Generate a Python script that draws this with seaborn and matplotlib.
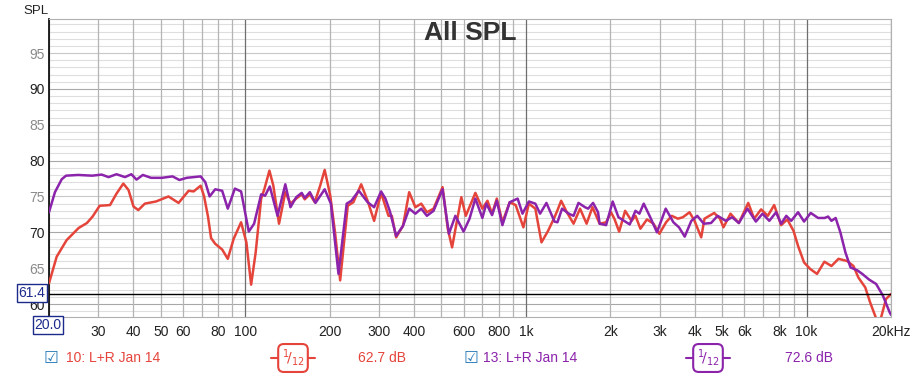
import numpy as np
import matplotlib
matplotlib.use("Agg")
import matplotlib.pyplot as plt
import pandas as pd
import seaborn as sns
from matplotlib.lines import Line2D

# measurement 10 (red)
red_freq = [20, 21.3, 23.1, 25.5, 27.3, 28.6, 30.3, 33, 34.8, 36.8, 38.4, 40, 41.6, 43.9, 48.1,
            53.3, 57.9, 62.9, 65.5, 69.4, 71.4, 73.7, 75.6, 78.2, 82.8, 86.7, 91, 96.7, 101,
            105, 109, 114, 117, 122, 126, 132, 139, 145, 152, 159, 163, 170, 177, 185, 192,
            201, 209, 218, 232, 243, 259, 273, 288, 305, 324, 333, 345, 365, 384, 404, 424,
            444, 469, 505, 527, 546, 589, 611, 661, 700, 730, 758, 788, 825, 876, 920, 980,
            1025, 1081, 1137, 1200, 1265, 1300, 1336, 1400, 1479, 1560, 1646, 1727, 1832,
            1932, 2011, 2067, 2150, 2258, 2380, 2458, 2560, 2700, 2850, 2990, 3160, 3310,
            3480, 3625, 3830, 3990, 4215, 4330, 4690, 4915, 5060, 5360, 5740, 6200, 6510,
            6890, 7280, 7670, 8120, 8540, 8990, 9330, 9800, 10300, 10900, 11580, 12270,
            13000, 13950, 14700, 15300, 16200, 16860, 17700, 18400, 19200, 20000]
red_spl = [62.9, 66.6, 68.9, 70.6, 71.3, 72.2, 73.7, 73.8, 75.4, 76.8, 75.9, 73.6, 73.1, 74.0, 74.3,
           75.0, 74.1, 75.8, 75.7, 76.5, 75.0, 72.2, 69.2, 68.4, 67.6, 66.3, 69.1, 71.4, 68.6,
           62.7, 67.2, 74.7, 76.0, 78.6, 76.5, 71.2, 75.6, 74.0, 74.7, 75.3, 74.6, 75.3, 74.2, 76.5, 78.7,
           75.1, 70.0, 63.3, 73.7, 74.2, 76.7, 74.4, 71.6, 75.5, 72.3, 72.3, 69.3, 70.9, 75.6, 73.5, 74.0,
           72.8, 73.3, 76.3, 70.5, 67.9, 74.9, 72.3, 75.5, 73.3, 74.4, 72.6, 74.7, 71.4, 74.2, 73.8, 70.7,
           74.0, 73.3, 68.6, 70.2, 72.1, 73.2, 74.4, 72.8, 71.2, 73.3, 71.2, 73.5, 71.2,
           71.4, 72.8, 71.9, 70.1, 73.0, 71.6, 72.3, 70.5, 71.8, 71.2, 69.8, 71.4, 72.3,
           71.9, 72.1, 72.8, 71.6, 69.3, 71.9, 72.7, 71.9, 70.7, 72.6, 71.3, 74.1, 71.9,
           73.2, 72.3, 73.8, 71.0, 71.8, 70.2, 68.1, 65.8, 64.9, 64.2, 65.9, 65.3,
           66.3, 66.0, 65.3, 63.7, 62.3, 60.2, 58.0, 58.0, 60.7, 61.4]

# measurement 13 (purple)
purple_freq = [20, 21, 22.2, 23, 25.4, 28.5, 30.8, 32.6, 34.8, 37.3, 39.3, 41, 43.2, 46.2, 50.5,
               55.1, 58.3, 61.9, 69.4, 72.1, 74.7, 78.2, 82.8, 86.7, 91.9, 96.7, 103, 107.6, 114,
               117.7, 122.4, 130.4, 139, 145, 152, 159, 163, 170, 178, 192, 202, 215, 230, 239,
               254, 273, 288, 305, 316, 328, 345, 365, 384, 404, 424, 444, 469, 505, 532, 561,
               600, 630, 661, 700, 723, 758, 788, 825, 876, 935, 973, 1025, 1081, 1124, 1184,
               1265, 1296, 1346, 1422, 1479, 1540, 1625, 1667, 1736, 1808, 1832, 1932, 2039,
               2138, 2240, 2345, 2458, 2539, 2630, 2775, 2931, 3150, 3355, 3512, 3682, 3887,
               4080, 4306, 4570, 4822, 5160, 5430, 5740, 6160, 6600, 6970, 7370, 7790, 8120,
               8470, 8820, 9330, 9800, 10350, 11000, 11600, 11940, 12270, 12700, 13200, 13760,
               14350, 15170, 15800, 16720, 17700, 18700, 19800, 20000]
purple_spl = [72.8, 75.6, 77.4, 77.9, 78.0, 77.9, 78.05, 77.7, 78.1, 77.7, 78.1, 77.35, 78.0, 77.6, 77.6,
              77.8, 77.3, 77.6, 77.8, 77.0, 75.0, 76.0, 75.8, 73.3, 76.1, 75.7, 70.1, 71.2, 75.3,
              75.1, 76.4, 72.3, 76.7, 73.5, 74.9, 75.5, 74.8, 75.6, 74.1, 76.0, 74.0, 64.2, 74.0, 74.4,
              75.8, 74.2, 73.5, 75.7, 74.7, 72.9, 69.5, 70.9, 73.3, 72.6, 73.3, 72.3, 73.0, 76.0, 69.8, 72.3,
              70.1, 71.9, 74.7, 72.0, 74.0, 72.4, 74.4, 71.0, 74.2, 74.7, 72.6, 74.3, 74.0, 72.6, 74.1,
              71.5, 71.4, 73.3, 72.6, 72.3, 74.1, 73.5, 73.3, 74.1, 72.8, 71.2, 71.0, 74.3,
              72.1, 71.6, 71.1, 73.0, 72.6, 74.0, 72.1, 70.0, 73.3, 71.4, 70.7, 69.4, 71.6,
              72.3, 71.2, 71.3, 72.3, 71.6, 72.1, 71.3, 73.3, 71.5, 72.6, 71.6, 72.8, 71.2,
              72.3, 71.6, 72.8, 71.5, 72.7, 72.0, 72.0, 72.2, 71.6, 72.0, 70.0, 67.2,
              65.1, 64.7, 64.2, 63.4, 62.8, 61.2, 58.8, 58.5]

tick_freqs = [20, 30, 40, 50, 60, 80, 100, 200, 300, 400, 600, 800, 1000,
              2000, 3000, 4000, 5000, 6000, 8000, 10000, 20000]
tick_labels = ["", "30", "40", "50", "60", "80", "100", "200", "300", "400", "600", "800", "1k",
               "2k", "3k", "4k", "5k", "6k", "8k", "10k", "20kHz"]

RED = "#e5443b"
PURPLE = "#8b23ab"
NAVY = "#1c2a8c"

sns.set_style("white")
plt.rcParams["font.family"] = ["Liberation Sans", "DejaVu Sans"]

W, H = 915, 375
fig = plt.figure(figsize=(W / 100, H / 100), dpi=100)
ax = fig.add_axes([49 / W, 1 - 317 / H, (891 - 49) / W, (317 - 19) / H])

ax.set_xscale("log")
ax.set_xlim(20, 20000)
ax.set_ylim(58.19, 99.75)

# grid
for db in range(59, 100):
    if db % 10 == 0:
        c = "#a8a8a8"
    elif db % 5 == 0:
        c = "#c8c8c8"
    else:
        c = "#dedede"
    ax.axhline(db, color=c, lw=0.8, zorder=0)
for dec in [10, 100, 1000, 10000]:
    for m in range(1, 10):
        f = dec * m
        if f < 20 or f > 20000:
            continue
        c = "#6e6e6e" if m == 1 else "#b4b4b4"
        ax.axvline(f, color=c, lw=0.9, zorder=0)
ax.axvline(20000, color="#b4b4b4", lw=0.9, zorder=0)

red_df = pd.DataFrame({"freq": red_freq, "spl": red_spl})
purple_df = pd.DataFrame({"freq": purple_freq, "spl": purple_spl})
sns.lineplot(data=red_df, x="freq", y="spl", ax=ax, color=RED, lw=1.8,
             estimator=None, sort=False, zorder=3,
             solid_joinstyle="round", solid_capstyle="round")
sns.lineplot(data=purple_df, x="freq", y="spl", ax=ax, color=PURPLE, lw=1.8,
             estimator=None, sort=False, zorder=4,
             solid_joinstyle="round", solid_capstyle="round")

# cursor
ax.axhline(61.4, color="black", lw=1.0, zorder=5)

for s in ["top", "right", "bottom"]:
    ax.spines[s].set_color("#b0b0b0")
    ax.spines[s].set_linewidth(0.8)
ax.spines["left"].set_color("black")
ax.spines["left"].set_linewidth(1.2)

ax.set_xticks(tick_freqs)
ax.set_xticklabels(tick_labels)
ax.xaxis.set_minor_locator(matplotlib.ticker.NullLocator())
ax.tick_params(axis="x", length=0, pad=6, labelsize=10, colors="#222222")

yt = [60, 65, 70, 75, 80, 85, 90, 95]
ax.set_yticks(yt)
ax.set_yticklabels([str(v) for v in yt])
ax.tick_params(axis="y", length=0, pad=3, labelsize=10)
for lab, v in zip(ax.get_yticklabels(), yt):
    lab.set_color("#222222" if v % 10 == 0 else "#8a8a8a")
ax.set_xlabel("")
ax.set_ylabel("")

fig.text(23 / W, 1 - 11 / H, "SPL", fontsize=9.5, color="#222222", va="center")
ax.text(0.5, 1 - 14 / 298, "All SPL", transform=ax.transAxes, ha="center", va="center",
        fontsize=19, fontweight="bold", color="#333333")

# cursor value boxes
fig.text(32 / W, 1 - 293 / H, "61.4", fontsize=10, color=NAVY, ha="center", va="center",
         bbox=dict(boxstyle="square,pad=0.12", fc="white", ec=NAVY, lw=1.0), zorder=10)
fig.text(48 / W, 1 - 325 / H, "20.0", fontsize=10, color=NAVY, ha="center", va="center",
         bbox=dict(boxstyle="square,pad=0.12", fc="white", ec=NAVY, lw=1.0), zorder=10)

# legend row
ly = 1 - 358 / H
entries = [(51, 66, "10: L+R Jan 14", 293, 358, "62.7 dB", RED),
           (471, 483, "13: L+R Jan 14", 708, 785, "72.6 dB", PURPLE)]
for cbx, tx, name, sx, dx, val, col in entries:
    fig.text(cbx / W, ly, "\u2611", fontsize=12, color="#2b7bb9", ha="center", va="center",
             family="DejaVu Sans")
    fig.text(tx / W, ly, name, fontsize=10, color=col, va="center")
    fig.add_artist(Line2D([(sx - 22) / W, (sx + 22) / W], [ly, ly], color=col, lw=1.5))
    fig.text(sx / W, ly, r"$^{1}\!/_{12}$", fontsize=10, color=col, ha="center", va="center",
             bbox=dict(boxstyle="round,pad=0.25,rounding_size=0.4", fc="white", ec=col, lw=1.5))
    fig.text(dx / W, ly, val, fontsize=10, color=col, va="center")

fig.savefig("out.png", dpi=100)
